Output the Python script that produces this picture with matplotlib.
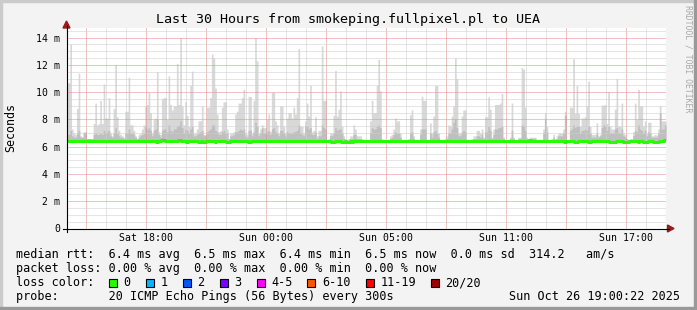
import matplotlib
matplotlib.use("Agg")
import matplotlib.pyplot as plt
import numpy as np
from matplotlib.lines import Line2D
from matplotlib.patches import Polygon, Rectangle

plt.rcParams['font.family'] = 'DejaVu Sans Mono'

# 30 hours of 5-minute steps (ms). one row = one hour
smoke_max = [
    10.7, 10.7, 13.5, 7.3, 7.0, 6.9, 8.8, 11.4, 6.8, 6.7, 7.1, 7.1,
    6.6, 6.6, 6.6, 6.6, 7.7, 9.2, 7.6, 7.7, 9.4, 7.7, 10.6, 8.1,
    8.1, 9.6, 7.0, 6.8, 8.8, 12.0, 8.2, 7.2, 6.9, 6.8, 6.7, 8.6,
    8.6, 11.1, 7.6, 7.6, 7.2, 6.8, 6.6, 6.9, 7.0, 7.3, 7.6, 9.0,
    9.1, 10.0, 8.5, 7.0, 8.0, 8.1, 11.5, 7.1, 6.9, 9.5, 9.6, 9.6,
    8.0, 11.2, 9.1, 8.7, 9.0, 9.0, 12.1, 9.1, 14.0, 9.0, 7.6, 9.3,
    8.3, 7.5, 10.5, 11.55, 7.0, 7.0, 7.3, 7.9, 7.9, 9.0, 6.9, 6.9,
    8.9, 8.9, 9.6, 12.8, 12.5, 10.3, 8.4, 7.1, 7.2, 8.9, 9.3, 9.3,
    7.3, 6.6, 7.0, 7.0, 7.1, 8.4, 8.6, 9.2, 9.2, 9.6, 10.2, 7.0,
    6.9, 9.7, 9.7, 7.0, 9.4, 14.0, 12.3, 7.0, 7.3, 7.6, 7.4, 7.4,
    8.0, 8.4, 7.1, 10.0, 10.0, 7.9, 7.6, 7.0, 9.0, 9.0, 7.5, 7.0,
    8.1, 8.5, 8.5, 8.1, 8.9, 8.4, 9.6, 13.2, 7.5, 7.5, 7.0, 7.9,
    9.2, 8.25, 10.5, 7.1, 7.2, 8.2, 6.8, 7.2, 7.2, 13.4, 9.4, 9.4,
    6.5, 6.6, 7.0, 7.0, 8.3, 11.6, 8.25, 8.75, 10.1, 7.5, 6.8, 6.6,
    6.5, 6.6, 6.8, 6.8, 7.6, 7.3, 6.8, 6.8, 6.8, 6.6, 6.5, 6.5,
    6.5, 6.5, 7.9, 9.4, 8.5, 8.5, 10.5, 12.4, 10.1, 6.6, 6.5, 6.5,
    6.5, 6.5, 6.8, 6.9, 7.3, 8.1, 7.9, 7.9, 7.0, 6.5, 6.5, 6.5,
    6.5, 6.6, 8.35, 8.7, 6.8, 6.5, 6.5, 6.5, 7.3, 9.7, 9.4, 9.4,
    6.5, 6.5, 7.75, 7.0, 8.25, 10.5, 10.5, 7.0, 6.5, 6.5, 6.5, 6.6,
    6.8, 7.6, 7.5, 8.25, 9.0, 12.5, 11.0, 7.0, 7.0, 8.25, 8.7, 8.7,
    6.5, 6.5, 6.5, 6.6, 6.8, 6.8, 7.2, 7.2, 7.0, 7.3, 6.7, 8.2,
    8.2, 9.65, 8.75, 6.7, 7.3, 9.1, 9.1, 9.1, 9.2, 9.9, 6.7, 6.5,
    6.5, 6.5, 6.7, 9.2, 6.7, 6.5, 6.5, 6.7, 6.7, 11.8, 11.7, 8.9,
    6.7, 6.6, 6.7, 6.7, 6.7, 6.7, 6.5, 6.5, 6.5, 6.5, 7.3, 8.5,
    7.5, 6.5, 6.5, 6.6, 6.9, 6.6, 6.8, 7.0, 7.0, 7.0, 7.3, 8.6,
    6.5, 6.5, 8.9, 8.9, 12.45, 8.45, 10.5, 8.45, 7.5, 8.1, 8.1, 8.2,
    9.0, 10.8, 7.5, 6.9, 6.9, 6.9, 7.75, 6.8, 6.9, 9.05, 9.05, 9.1,
    7.7, 10.05, 7.5, 7.3, 7.3, 8.75, 11.0, 7.5, 7.5, 9.2, 7.0, 6.9,
    6.6, 6.5, 6.6, 6.6, 7.1, 9.2, 8.0, 10.2, 9.0, 9.0, 7.5, 7.9,
    7.0, 7.8, 7.8, 6.8, 6.8, 6.9, 6.85, 7.3, 9.0, 7.9, 7.9, 7.9,
]

smoke_mid = [
    6.9, 6.9, 7.2, 6.8, 6.7, 6.7, 7.0, 7.2, 6.7, 6.7, 7.05, 7.05,
    6.6, 6.6, 6.6, 6.6, 6.9, 7.0, 6.9, 6.9, 7.0, 6.9, 7.2, 7.0,
    7.1, 7.2, 6.8, 6.7, 7.0, 7.4, 7.0, 6.8, 6.7, 6.7, 6.6, 7.0,
    7.0, 7.3, 7.0, 7.0, 6.9, 6.7, 6.6, 6.7, 6.8, 6.9, 7.0, 7.5,
    7.3, 7.4, 7.2, 6.8, 7.2, 7.3, 8.0, 6.9, 6.7, 7.2, 7.3, 7.3,
    7.1, 7.6, 7.2, 7.1, 7.3, 7.3, 7.5, 7.6, 7.9, 7.4, 7.0, 7.3,
    7.2, 7.0, 7.3, 7.5, 6.8, 6.8, 6.9, 7.0, 7.1, 7.2, 6.8, 6.8,
    7.1, 7.2, 7.3, 7.6, 7.6, 7.2, 7.1, 6.9, 6.9, 7.1, 7.2, 7.0,
    7.0, 6.6, 6.8, 6.8, 6.9, 7.1, 7.1, 7.2, 7.3, 7.2, 7.3, 6.8,
    6.7, 7.2, 7.2, 6.8, 7.1, 7.8, 7.5, 6.8, 7.0, 7.4, 7.0, 7.0,
    7.1, 7.2, 6.9, 7.3, 7.4, 7.1, 7.0, 6.8, 7.2, 7.2, 7.0, 6.8,
    7.1, 7.0, 7.0, 7.0, 7.1, 7.1, 7.2, 7.6, 7.0, 6.9, 6.8, 7.5,
    7.5, 7.3, 7.4, 6.9, 6.9, 7.1, 6.6, 6.8, 6.8, 7.6, 7.4, 7.3,
    6.5, 6.5, 6.8, 6.8, 7.0, 7.4, 7.2, 7.3, 7.3, 7.0, 6.6, 6.5,
    6.5, 6.5, 6.6, 6.6, 6.9, 6.9, 6.6, 6.6, 6.6, 6.5, 6.5, 6.5,
    6.5, 6.5, 7.0, 7.4, 7.3, 7.3, 7.5, 7.6, 7.4, 6.5, 6.5, 6.5,
    6.5, 6.5, 6.6, 6.7, 6.9, 7.1, 7.0, 7.0, 6.7, 6.5, 6.5, 6.5,
    6.5, 6.5, 7.0, 7.1, 6.6, 6.5, 6.5, 6.5, 6.9, 7.3, 7.3, 7.3,
    6.5, 6.5, 7.0, 6.7, 7.1, 7.2, 7.0, 6.7, 6.5, 6.5, 6.5, 6.5,
    6.6, 7.0, 7.0, 7.3, 7.8, 8.0, 7.4, 6.8, 6.8, 7.1, 7.2, 7.1,
    6.5, 6.5, 6.5, 6.5, 6.6, 6.6, 6.8, 6.8, 6.7, 6.9, 6.6, 7.1,
    7.1, 7.5, 7.2, 6.6, 6.9, 7.3, 7.3, 7.4, 7.4, 7.5, 6.6, 6.5,
    6.5, 6.5, 6.6, 7.2, 6.6, 6.5, 6.5, 6.6, 6.6, 7.6, 7.5, 7.2,
    6.6, 6.5, 6.6, 6.6, 6.6, 6.6, 6.5, 6.5, 6.5, 6.5, 7.0, 8.0,
    7.1, 6.5, 6.5, 6.5, 6.7, 6.5, 6.6, 6.8, 6.8, 6.8, 7.0, 8.3,
    6.5, 6.5, 7.2, 7.3, 7.6, 7.4, 7.5, 7.5, 7.0, 7.2, 7.2, 7.3,
    7.2, 7.5, 7.0, 6.7, 6.7, 6.7, 7.0, 6.7, 6.8, 7.4, 7.6, 7.5,
    7.2, 7.5, 7.0, 7.0, 7.0, 7.3, 7.4, 7.0, 7.0, 7.3, 6.8, 6.7,
    6.6, 6.5, 6.5, 6.5, 6.8, 7.2, 7.1, 7.6, 7.3, 7.2, 7.0, 7.2,
    6.8, 7.1, 7.0, 6.7, 6.7, 6.7, 6.7, 7.0, 8.5, 7.3, 7.3, 7.6,
]

median_rtt = [
    6.42, 6.42, 6.42, 6.42, 6.42, 6.42, 6.42, 6.42, 6.42, 6.42, 6.42, 6.42,
    6.42, 6.42, 6.42, 6.42, 6.42, 6.42, 6.42, 6.42, 6.42, 6.42, 6.42, 6.42,
    6.42, 6.42, 6.42, 6.42, 6.42, 6.42, 6.42, 6.42, 6.42, 6.42, 6.42, 6.42,
    6.42, 6.42, 6.42, 6.42, 6.42, 6.42, 6.42, 6.42, 6.42, 6.42, 6.42, 6.42,
    6.42, 6.42, 6.42, 6.42, 6.42, 6.42, 6.38, 6.42, 6.42, 6.48, 6.48, 6.42,
    6.42, 6.42, 6.42, 6.42, 6.42, 6.42, 6.42, 6.48, 6.48, 6.42, 6.42, 6.42,
    6.37, 6.42, 6.42, 6.42, 6.42, 6.42, 6.42, 6.37, 6.37, 6.42, 6.37, 6.37,
    6.42, 6.42, 6.42, 6.42, 6.42, 6.38, 6.42, 6.42, 6.42, 6.42, 6.42, 6.42,
    6.37, 6.37, 6.42, 6.42, 6.42, 6.42, 6.42, 6.42, 6.42, 6.42, 6.42, 6.42,
    6.42, 6.38, 6.38, 6.42, 6.42, 6.42, 6.42, 6.42, 6.42, 6.42, 6.42, 6.42,
    6.42, 6.42, 6.42, 6.42, 6.42, 6.42, 6.42, 6.42, 6.42, 6.42, 6.42, 6.42,
    6.42, 6.42, 6.42, 6.42, 6.42, 6.42, 6.42, 6.42, 6.42, 6.42, 6.42, 6.42,
    6.42, 6.42, 6.42, 6.42, 6.42, 6.42, 6.42, 6.42, 6.42, 6.42, 6.42, 6.42,
    6.42, 6.42, 6.42, 6.34, 6.34, 6.42, 6.42, 6.42, 6.42, 6.35, 6.35, 6.42,
    6.35, 6.35, 6.42, 6.35, 6.42, 6.42, 6.42, 6.42, 6.42, 6.42, 6.42, 6.42,
    6.42, 6.42, 6.42, 6.42, 6.42, 6.42, 6.42, 6.42, 6.42, 6.42, 6.42, 6.42,
    6.42, 6.42, 6.42, 6.42, 6.42, 6.42, 6.42, 6.42, 6.42, 6.42, 6.42, 6.42,
    6.42, 6.42, 6.42, 6.42, 6.42, 6.42, 6.42, 6.42, 6.42, 6.42, 6.42, 6.42,
    6.42, 6.42, 6.42, 6.42, 6.42, 6.42, 6.42, 6.42, 6.42, 6.42, 6.42, 6.42,
    6.42, 6.42, 6.42, 6.42, 6.42, 6.42, 6.42, 6.42, 6.42, 6.42, 6.42, 6.42,
    6.42, 6.42, 6.42, 6.42, 6.42, 6.42, 6.42, 6.42, 6.42, 6.42, 6.42, 6.42,
    6.42, 6.42, 6.42, 6.42, 6.42, 6.42, 6.42, 6.42, 6.42, 6.42, 6.42, 6.42,
    6.42, 6.42, 6.42, 6.42, 6.42, 6.42, 6.42, 6.42, 6.42, 6.42, 6.42, 6.42,
    6.42, 6.42, 6.49, 6.42, 6.42, 6.42, 6.42, 6.42, 6.42, 6.42, 6.42, 6.42,
    6.42, 6.42, 6.42, 6.42, 6.42, 6.42, 6.42, 6.42, 6.42, 6.42, 6.42, 6.37,
    6.42, 6.42, 6.42, 6.42, 6.42, 6.37, 6.37, 6.42, 6.42, 6.42, 6.42, 6.42,
    6.42, 6.37, 6.37, 6.42, 6.42, 6.42, 6.42, 6.42, 6.42, 6.42, 6.42, 6.42,
    6.42, 6.42, 6.37, 6.37, 6.37, 6.37, 6.42, 6.42, 6.42, 6.42, 6.37, 6.37,
    6.37, 6.37, 6.42, 6.42, 6.42, 6.42, 6.42, 6.37, 6.42, 6.42, 6.37, 6.37,
    6.37, 6.42, 6.42, 6.42, 6.37, 6.37, 6.37, 6.37, 6.42, 6.42, 6.42, 6.48,
]

# x tick labels (hours since Sat 14:00; DST ends at night)
tick_hours = [1, 4, 7, 10, 13, 16, 19, 22, 25, 28]
tick_labels = ['', 'Sat 18:00', '', 'Sun 00:00', '', 'Sun 05:00', '', 'Sun 11:00', '', 'Sun 17:00']
y_ticks = [0, 2, 4, 6, 8, 10, 12, 14]
y_labels = ['0', '2 m', '4 m', '6 m', '8 m', '10 m', '12 m', '14 m']

loss_labels = ['0', '1', '2', '3', '4-5', '6-10', '11-19', '20/20']
loss_colors = ['#26ff00', '#00b8ff', '#0059ff', '#7e00ff', '#ff00ff', '#ff5500', '#ff0000', '#a00000']
loss_box_x = [108.5, 145.7, 182.7, 219.5, 256.7, 307.3, 365.7, 431.0]

W, H = 697, 310


def fx(x):
    return x / W


def fy(y):
    return 1 - y / H


fig = plt.figure(figsize=(W / 100, H / 100), dpi=100, facecolor='#f3f3f3')
ax = fig.add_axes([fx(66.5), fy(228.5), (666 - 66.5) / W, (228.5 - 28) / H])
ax.set_facecolor('white')

n = len(smoke_max)
edges = np.arange(n + 1) / 12.0
med = np.append(median_rtt, median_rtt[-1])
hi = np.append(smoke_max, smoke_max[-1])
mid = np.append(smoke_mid, smoke_mid[-1])

ax.fill_between(edges, med, hi, step='post', color='#d8d8d8', lw=0, zorder=1)
ax.fill_between(edges, med, mid, step='post', color='#bfbfbf', lw=0, zorder=1.1)
ax.step(edges, med, where='post', color='#26ff00', lw=2.2, zorder=3)

ax.set_xlim(0, 30)
ax.set_ylim(0, 14.71)
ax.set_xticks(tick_hours)
ax.set_xticklabels(tick_labels)
ax.set_xticks(np.setdiff1d(np.arange(0, 31), tick_hours), minor=True)
ax.set_yticks(y_ticks)
ax.set_yticklabels(y_labels)
ax.set_yticks(np.setdiff1d(np.arange(0, 14.75, 0.5), y_ticks), minor=True)

ax.set_axisbelow(False)
ax.grid(which='major', color='#e48a8a', linestyle=(0, (1, 1)), lw=0.72)
ax.grid(which='minor', color='#cdcdcd', linestyle=(0, (1, 1)), lw=0.72)
ax.tick_params(which='both', length=0)
ax.tick_params(axis='x', labelsize=7.1, pad=3.2)
ax.tick_params(axis='y', labelsize=7.1, pad=4.7)
for s in ax.spines.values():
    s.set_visible(False)

# axis lines and arrows
fig.add_artist(Line2D([fx(62.5), fx(669)], [fy(228.5), fy(228.5)], color='black', lw=0.8))
fig.add_artist(Line2D([fx(66.5), fx(66.5)], [fy(232), fy(25)], color='black', lw=0.8))
fig.add_artist(Polygon([[fx(66.5), fy(21)], [fx(63), fy(28)], [fx(70), fy(28)]],
                       closed=True, color='#9b1b1b', transform=fig.transFigure))
fig.add_artist(Polygon([[fx(674), fy(228.5)], [fx(667.5), fy(225)], [fx(667.5), fy(232)]],
                       closed=True, color='#9b1b1b', transform=fig.transFigure))

# frame shading
fig.add_artist(Rectangle((0, 0), fx(2), 1, color='#cbcbcb', transform=fig.transFigure))
fig.add_artist(Rectangle((0, fy(2)), 1, 2 / H, color='#cbcbcb', transform=fig.transFigure))
fig.add_artist(Rectangle((fx(694), 0), 3 / W, 1, color='#999999', transform=fig.transFigure))
fig.add_artist(Rectangle((0, 0), 1, 3 / H, color='#999999', transform=fig.transFigure))

fig.text(fx(347.5), fy(19), 'Last 30 Hours from smokeping.fullpixel.pl to UEA',
         ha='center', va='center', fontsize=9.6)
fig.text(fx(10.5), fy(127.5), 'Seconds', rotation=90, ha='center', va='center', fontsize=8.4)
fig.text(fx(688), fy(59), 'RRDTOOL / TOBI OETIKER', rotation=270, ha='center', va='center',
         fontsize=5.9, color='#a8a8a8')

fs = 8.45
fig.text(fx(16), fy(254.5),
         'median rtt:  6.4 ms avg  6.5 ms max  6.4 ms min  6.5 ms now  0.0 ms sd  314.2   am/s',
         ha='left', va='center', fontsize=fs)
fig.text(fx(16), fy(268.5), 'packet loss: 0.00 % avg  0.00 % max  0.00 % min  0.00 % now',
         ha='left', va='center', fontsize=fs)
fig.text(fx(16), fy(282.5), 'loss color:', ha='left', va='center', fontsize=fs)
for bx, lab, col in zip(loss_box_x, loss_labels, loss_colors):
    fig.add_artist(Rectangle((fx(bx), fy(286.5)), 8 / W, 8 / H, facecolor=col,
                             edgecolor='black', lw=0.8, transform=fig.transFigure))
    fig.text(fx(bx + 14.5), fy(282.5), lab, ha='left', va='center', fontsize=fs)
fig.text(fx(16), fy(296.5), 'probe:       20 ICMP Echo Pings (56 Bytes) every 300s',
         ha='left', va='center', fontsize=fs)
fig.text(fx(680), fy(296.5), 'Sun Oct 26 19:00:22 2025', ha='right', va='center', fontsize=fs)

fig.savefig('out.png', dpi=100, facecolor=fig.get_facecolor())
